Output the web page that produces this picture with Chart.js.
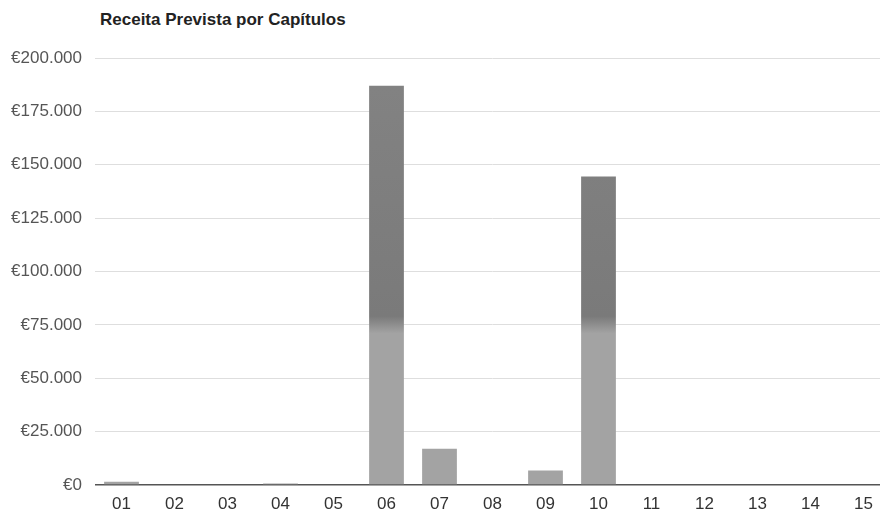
<!DOCTYPE html>
<html>
<head>
<meta charset="utf-8">
<script src="https://cdn.jsdelivr.net/npm/chart.js@4.4.0/dist/chart.umd.min.js"></script>
<style>
  html, body { margin: 0; padding: 0; background: #fff; overflow: hidden; }
  #wrap { position: relative; width: 890px; height: 513px; }
  #title {
    position: absolute; left: 100px; top: 10px; margin: 0;
    font: bold 17px "Liberation Sans", Arial, sans-serif; color: #222;
  }
  #box { position: absolute; left: 0; top: 0; width: 890px; height: 513px; }
</style>
</head>
<body>
<div id="wrap">
  <h1 id="title">Receita Prevista por Capítulos</h1>
  <div id="box"><canvas id="receita-chart"></canvas></div>
</div>
<script>
// capitulos e valores (euros)
const capitulos = ['01', '02', '03', '04', '05', '06', '07', '08', '09', '10', '11', '12', '13', '14', '15'];
const receitaPrevista = [1500, 0, 0, 700, 0, 187000, 17000, 0, 6800, 144500, 0, 0, 0, 0, 0];
const yTicks = [0, 25000, 50000, 75000, 100000, 125000, 150000, 175000, 200000];
const yTickLabels = ['€0', '€25.000', '€50.000', '€75.000', '€100.000', '€125.000', '€150.000', '€175.000', '€200.000'];

const darkGrey = '#838383';
const lightGrey = '#a3a3a3';

// the scan darkens the bars above 75.000
function barColor(context) {
  const chart = context.chart;
  const area = chart.chartArea;
  if (!area) return lightGrey;
  const y = chart.scales.y.getPixelForValue(75000);
  const f = Math.min(Math.max((y - area.top) / (area.bottom - area.top), 0), 1);
  const g = chart.ctx.createLinearGradient(0, area.top, 0, area.bottom);
  g.addColorStop(0, darkGrey);
  g.addColorStop(Math.max(f - 0.02, 0), '#7a7a7a');
  g.addColorStop(Math.min(f + 0.02, 1), lightGrey);
  g.addColorStop(1, lightGrey);
  return g;
}

new Chart(document.getElementById('receita-chart'), {
  type: 'bar',
  data: {
    labels: capitulos,
    datasets: [{
      label: 'Receita Prevista',
      data: receitaPrevista,
      backgroundColor: barColor,
      barPercentage: 0.82,
      categoryPercentage: 0.8
    }]
  },
  options: {
    responsive: true,
    maintainAspectRatio: false,
    animation: false,
    layout: { padding: { top: 58, left: 0, right: 0, bottom: 0 } },
    plugins: {
      legend: { display: false },
      title: { display: false },
      tooltip: { enabled: false }
    },
    scales: {
      x: {
        afterFit: scale => { scale.height = 28; },
        grid: { display: false, drawTicks: false },
        border: { display: false },
        ticks: {
          color: '#333',
          padding: 9,
          font: { family: '"Liberation Sans", Arial, sans-serif', size: 17 }
        }
      },
      y: {
        min: 0,
        max: 200000,
        afterFit: scale => { scale.width = 95; },
        afterBuildTicks: scale => { scale.ticks = yTicks.map(v => ({ value: v })); },
        border: { display: false },
        grid: {
          drawTicks: false,
          color: c => (c.tick && c.tick.value === 0 ? '#555' : '#dedede'),
          lineWidth: c => (c.tick && c.tick.value === 0 ? 1.5 : 1)
        },
        ticks: {
          color: '#555',
          padding: 13,
          font: { family: '"Liberation Sans", Arial, sans-serif', size: 17 },
          callback: v => yTickLabels[yTicks.indexOf(v)]
        }
      }
    }
  }
});
</script>
</body>
</html>
